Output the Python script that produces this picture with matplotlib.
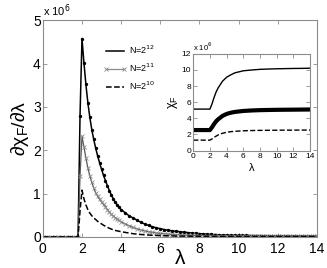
import numpy as np
import matplotlib
matplotlib.use("Agg")
import matplotlib.pyplot as plt
from matplotlib.lines import Line2D

plt.rcParams['font.family'] = ['Liberation Sans', 'DejaVu Sans']
plt.rcParams['mathtext.fontset'] = 'dejavusans'

# lambda grid of the main panel
lam = np.concatenate([np.arange(0, 1.81, 0.2), np.arange(1.9, 4.01, 0.1), np.arange(4.2, 14.01, 0.2)])

# d chi_F / d lambda, in units of 1e6
d12 = [0.0] * 10 + [
    2.80, 4.58, 4.02, 3.52, 3.10, 2.76, 2.48, 2.25, 2.05, 1.87, 1.71,
    1.56, 1.42, 1.30, 1.18, 1.07, 0.97, 0.88, 0.80, 0.74, 0.68, 0.63,
    0.56, 0.49, 0.44, 0.39, 0.34, 0.30, 0.265, 0.235, 0.21, 0.19,
    0.17, 0.155, 0.14, 0.13, 0.12, 0.11, 0.10, 0.09, 0.083, 0.076,
    0.07, 0.064, 0.059, 0.055, 0.051, 0.048, 0.045, 0.042, 0.04, 0.038,
    0.036, 0.034, 0.032, 0.031, 0.03, 0.029, 0.028, 0.027, 0.026, 0.025,
    0.024, 0.023, 0.022, 0.021, 0.021, 0.02, 0.02, 0.019, 0.019, 0.018]
d11 = [0.0] * 10 + [
    1.40, 2.32, 2.08, 1.82, 1.60, 1.41, 1.26, 1.13, 1.02, 0.94, 0.87,
    0.81, 0.75, 0.69, 0.63, 0.57, 0.52, 0.48, 0.44, 0.41, 0.38, 0.35,
    0.30, 0.26, 0.22, 0.19, 0.16, 0.14, 0.12, 0.105, 0.092, 0.08,
    0.072, 0.065, 0.058, 0.052, 0.047, 0.043, 0.04, 0.037, 0.034, 0.032,
    0.03, 0.028, 0.026, 0.025, 0.024, 0.023, 0.022, 0.021, 0.02, 0.019,
    0.018, 0.017, 0.017, 0.016, 0.016, 0.015, 0.015, 0.014, 0.014, 0.013,
    0.013, 0.013, 0.012, 0.012, 0.012, 0.011, 0.011, 0.011, 0.011, 0.01]
d10 = [0.0] * 10 + [
    0.60, 1.08, 0.88, 0.74, 0.63, 0.55, 0.49, 0.44, 0.40, 0.36, 0.33,
    0.30, 0.27, 0.245, 0.22, 0.20, 0.18, 0.165, 0.15, 0.14, 0.13, 0.12,
    0.105, 0.09, 0.075, 0.065, 0.056, 0.049, 0.043, 0.038, 0.034, 0.03,
    0.027, 0.025, 0.023, 0.021, 0.019, 0.018, 0.017, 0.016, 0.015, 0.014,
    0.013, 0.013, 0.012, 0.012, 0.011, 0.011, 0.01, 0.01, 0.01, 0.009,
    0.009, 0.009, 0.008, 0.008, 0.008, 0.008, 0.007, 0.007, 0.007, 0.007,
    0.007, 0.006, 0.006, 0.006, 0.006, 0.006, 0.006, 0.005, 0.005, 0.005]

# inset: chi_F, in units of 1e6
lam_in = [0, 1, 2, 2.25, 2.5, 2.75, 3, 3.5, 4, 4.5, 5, 6, 7, 8, 9, 10, 11, 12, 13, 14]
chi12 = [5.15, 5.15, 5.15, 5.8, 6.6, 7.3, 7.8, 8.6, 9.1, 9.4, 9.65, 9.9, 10.0, 10.08, 10.12, 10.15, 10.17, 10.19, 10.2, 10.22]
chi11 = [2.55, 2.55, 2.55, 2.9, 3.3, 3.65, 3.9, 4.3, 4.55, 4.7, 4.8, 4.92, 4.98, 5.02, 5.04, 5.06, 5.07, 5.08, 5.09, 5.1]
chi10 = [1.3, 1.3, 1.3, 1.45, 1.65, 1.8, 1.95, 2.15, 2.27, 2.35, 2.4, 2.46, 2.49, 2.51, 2.52, 2.53, 2.54, 2.54, 2.55, 2.55]
labels = [r'N=2$^{12}$', r'N=2$^{11}$', r'N=2$^{10}$']

spine = '0.55'


def matlab_box(ax, size, xpad):
    for s in ax.spines.values():
        s.set_color(spine)
        s.set_linewidth(0.8)
    ax.tick_params(direction='in', top=True, right=True, color=spine,
                   labelsize=size, length=3, width=0.6, pad=1.5)
    ax.tick_params(axis='x', pad=xpad)


fig = plt.figure(figsize=(3.27, 2.68), dpi=100)
ax = fig.add_axes([0.131, 0.116, 0.838, 0.808])
ax.plot(lam, d12, '-', color='k', lw=1.1, marker='.', ms=2.8)
ax.plot(lam, d11, '-', color='0.35', lw=0.9, marker='x', ms=3, mec='0.55', mew=0.6)
ax.plot(lam, d10, '--', color='k', lw=1.1)
ax.set_xlim(0, 14)
ax.set_ylim(0, 5)
ax.set_xticks(range(0, 15, 2))
ax.set_yticks(range(0, 6))
matlab_box(ax, 10, 3.5)
ax.set_xlabel(r'$\mathregular{\lambda}$', fontsize=15, labelpad=-5)
ax.set_ylabel(r'$\mathregular{\partial\chi_F/\partial\lambda}$', fontsize=14, labelpad=1)
ax.text(0.0, 1.005, r'x 10$^6$', transform=ax.transAxes, fontsize=8, va='bottom', ha='left')

handles = [Line2D([], [], color='k', lw=1.1),
           Line2D([], [], color='0.55', lw=0.9, marker='x', ms=3, mew=0.6),
           Line2D([], [], color='k', lw=1.1, ls='--')]
ax.legend(handles, labels, loc='upper left', bbox_to_anchor=(0.19, 0.93), frameon=False,
          fontsize=6.5, handlelength=2.6, numpoints=2, labelspacing=0.6, handletextpad=0.3)

ins = fig.add_axes([0.591, 0.438, 0.357, 0.361])
ins.plot(lam_in, chi12, '-', color='k', lw=1.0)
ins.plot(lam_in, chi11, '-', color='k', lw=3.0)
ins.plot(lam_in, chi10, '--', color='k', lw=1.0)
ins.set_xlim(0, 14)
ins.set_ylim(0, 12)
ins.set_xticks(range(0, 15, 2))
ins.set_yticks(range(0, 13, 2))
matlab_box(ins, 6, 1.5)
ins.set_xlabel(r'$\mathregular{\lambda}$', fontsize=8, labelpad=1)
ins.set_ylabel(r'$\mathregular{\chi_F}$', fontsize=9, labelpad=1)
ins.text(0.0, 1.01, r'x 10$^6$', transform=ins.transAxes, fontsize=5.5, va='bottom', ha='left')

fig.savefig('out.png', dpi=100)
